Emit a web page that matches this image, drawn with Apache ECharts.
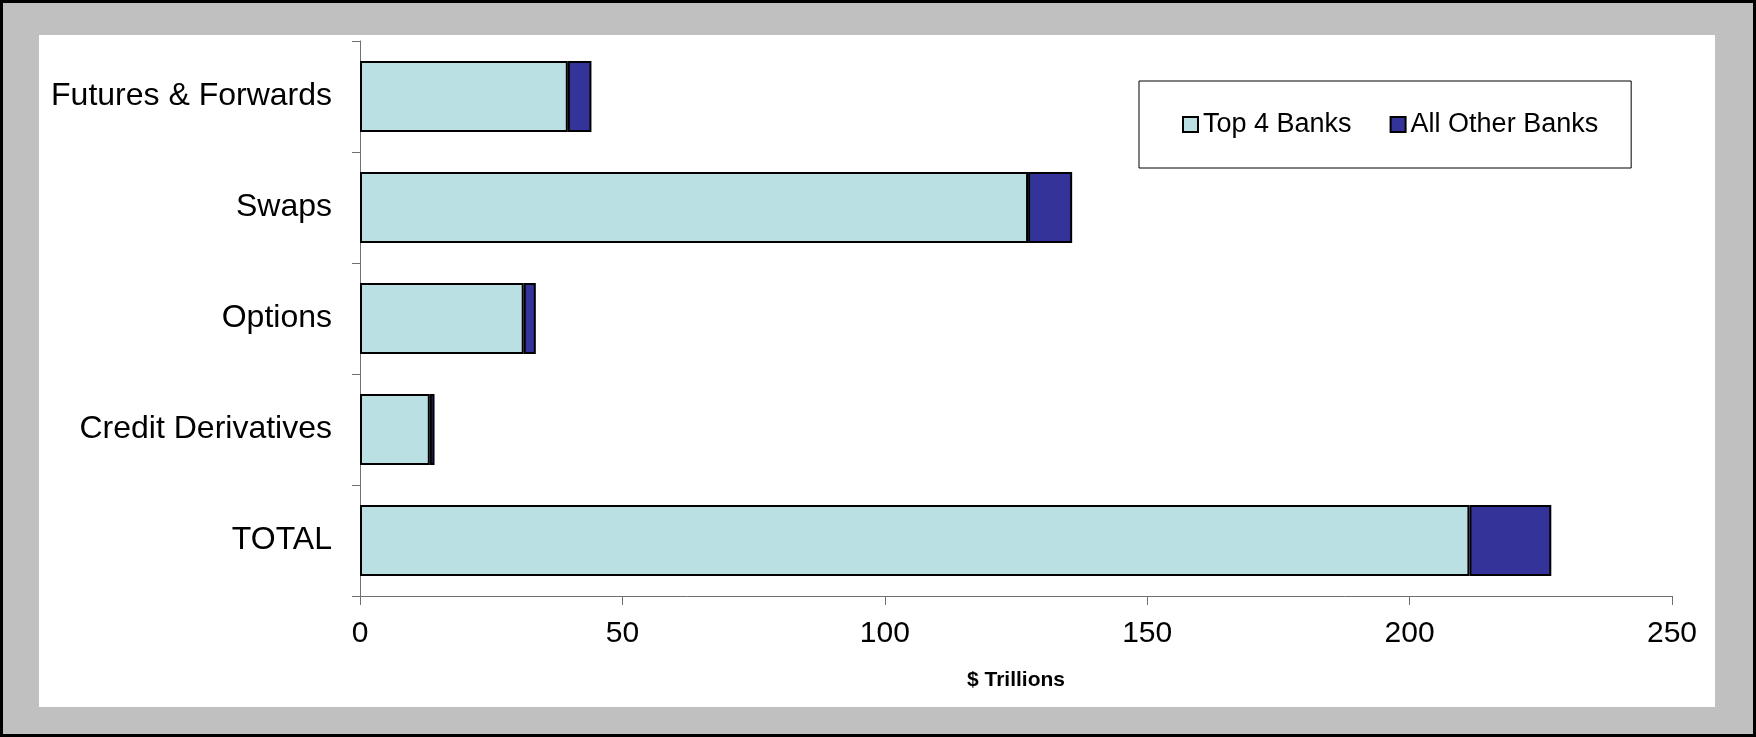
<!DOCTYPE html>
<html>
<head>
<meta charset="utf-8">
<script src="https://cdn.jsdelivr.net/npm/echarts@6/dist/echarts.min.js"></script>
<style>
  html, body { margin: 0; padding: 0; width: 1756px; height: 737px; overflow: hidden; }
  #frame { position: absolute; left: 0; top: 0; width: 1756px; height: 737px; box-sizing: border-box; border: 3px solid #000; background: #C0C0C0; }
  #paper { position: absolute; left: 39px; top: 35px; width: 1676px; height: 672px; background: #fff; }
  #chart { position: absolute; left: 0; top: 0; width: 1756px; height: 737px; }
</style>
</head>
<body>
<div id="frame"></div>
<div id="paper"></div>
<div id="chart"></div>
<script>
const categories = ['Futures & Forwards', 'Swaps', 'Options', 'Credit Derivatives', 'TOTAL'];
const top4Banks = [39.6, 127.3, 31.2, 13.3, 211.4];
const otherBanks = [4.5, 8.4, 2.3, 0.9, 15.6];
const seriesNames = ['Top 4 Banks', 'All Other Banks'];
const xTicks = { min: 0, max: 250, interval: 50 };

const chart = echarts.init(document.getElementById('chart'), null, { renderer: 'canvas' });
const font = 'Liberation Sans, Arial, sans-serif';
chart.setOption({
  backgroundColor: 'transparent',
  animation: false,
  textStyle: { fontFamily: font },
  grid: { left: 360, right: 84, top: 41, bottom: 141, containLabel: false },
  legend: {
    data: seriesNames,
    left: 1139, top: 81,
    orient: 'horizontal',
    padding: [30, 33, 30, 43],
    borderColor: '#000', borderWidth: 1,
    backgroundColor: '#fff',
    itemWidth: 15, itemHeight: 15, itemGap: 38,
    icon: 'rect',
    textStyle: { fontFamily: font, fontSize: 27, color: '#000' }
  },
  xAxis: {
    type: 'value',
    min: xTicks.min, max: xTicks.max, interval: xTicks.interval,
    name: '$ Trillions',
    nameLocation: 'middle',
    nameGap: 74,
    nameTextStyle: { fontFamily: font, fontSize: 21, fontWeight: 'bold', color: '#000' },
    axisLine: { show: true, lineStyle: { color: '#707070', width: 1 } },
    axisTick: { show: true, length: 9, lineStyle: { color: '#707070' } },
    axisLabel: { margin: 23, fontFamily: font, fontSize: 30, color: '#000' },
    splitLine: { show: false }
  },
  yAxis: {
    type: 'category',
    data: categories,
    inverse: true,
    axisLine: { show: true, lineStyle: { color: '#707070', width: 1 } },
    axisTick: { show: true, length: 8, lineStyle: { color: '#707070' } },
    axisLabel: { margin: 28, fontFamily: font, fontSize: 32, color: '#000' }
  },
  series: [
    {
      name: seriesNames[0], type: 'bar', stack: 'total', data: top4Banks,
      barCategoryGap: '36%',
      itemStyle: { color: '#BBE0E3', borderColor: '#000', borderWidth: 2 }
    },
    {
      name: seriesNames[1], type: 'bar', stack: 'total', data: otherBanks,
      barCategoryGap: '36%',
      itemStyle: { color: '#333399', borderColor: '#000', borderWidth: 2 }
    }
  ]
});
</script>
</body>
</html>
